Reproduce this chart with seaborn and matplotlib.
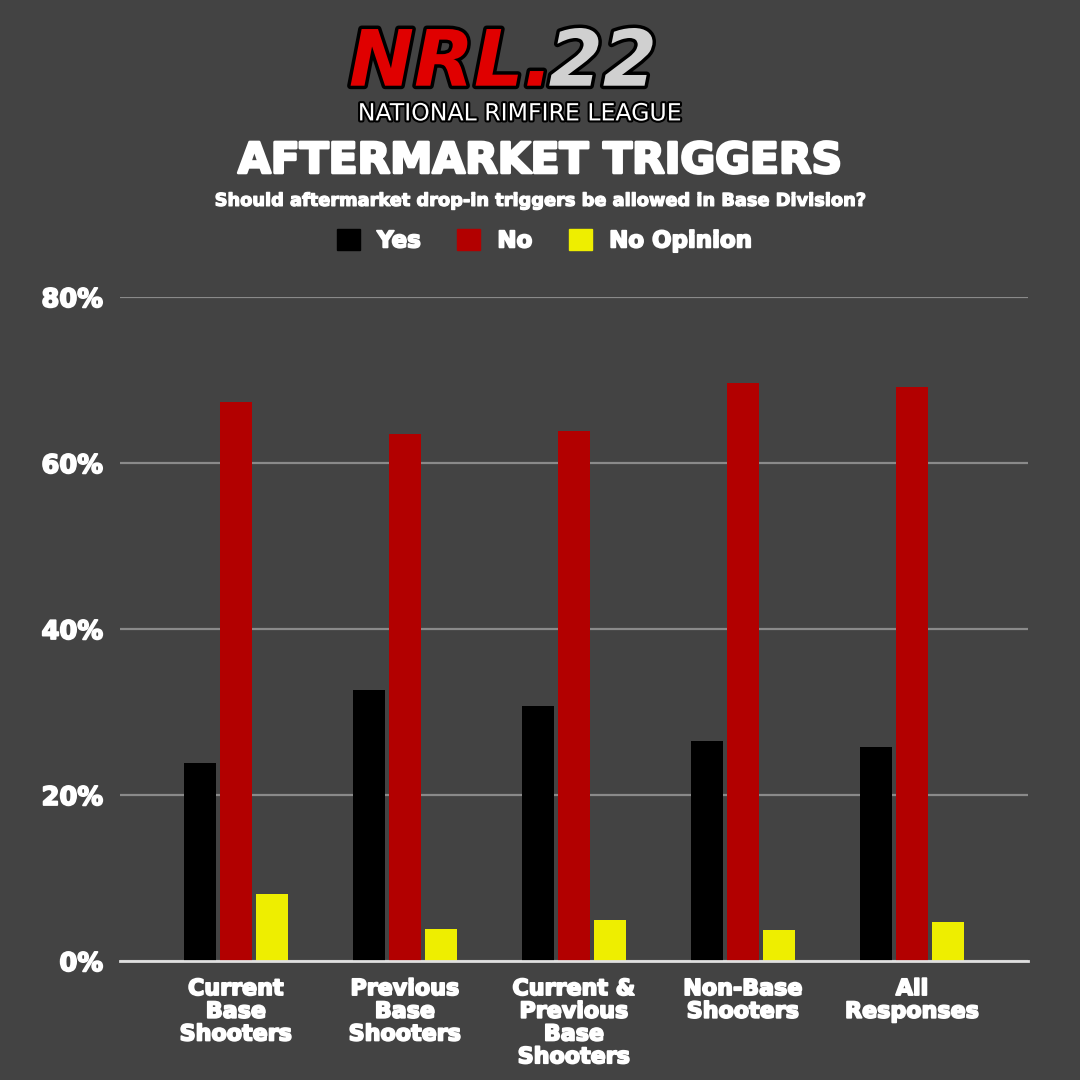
import matplotlib
matplotlib.use("Agg")
import matplotlib.pyplot as plt
import matplotlib.patheffects as pe
import seaborn as sns
import pandas as pd

categories = ["Current\nBase\nShooters", "Previous\nBase\nShooters",
              "Current &\nPrevious\nBase\nShooters", "Non-Base\nShooters", "All\nResponses"]
series = ["Yes", "No", "No Opinion"]
yes_vals = [23.9, 32.6, 30.7, 26.5, 25.8]
no_vals = [67.4, 63.5, 63.8, 69.6, 69.1]
noop_vals = [8.1, 3.9, 4.9, 3.7, 4.7]
y_ticks = [0, 20, 40, 60, 80]
y_tick_labels = ["0%", "20%", "40%", "60%", "80%"]

BG = "#434343"
colors = {"Yes": "#000000", "No": "#b20000", "No Opinion": "#eeee00"}

df = pd.DataFrame({
    "category": categories * 3,
    "series": ["Yes"] * 5 + ["No"] * 5 + ["No Opinion"] * 5,
    "value": yes_vals + no_vals + noop_vals,
})

sns.set_theme(style="dark")
FONT = ["DejaVu Sans"]
plt.rcParams["font.family"] = FONT

heavy = [pe.withStroke(linewidth=1.3, foreground="white")]

fig = plt.figure(figsize=(10.8, 10.8), dpi=100, facecolor=BG)
ax = fig.add_axes([120 / 1080, 119 / 1080, 908 / 1080, 664 / 1080])
ax.set_facecolor(BG)

sns.barplot(data=df, x="category", y="value", hue="series", order=categories,
            hue_order=series, palette=colors, width=0.64, gap=0.11,
            saturation=1, ax=ax, legend=False, errorbar=None, linewidth=0)

ax.set_ylim(0, 80)
ax.set_xlim(-0.686, 4.686)
ax.set_yticks(y_ticks)
ax.set_yticklabels(y_tick_labels)
ax.set_xlabel("")
ax.set_ylabel("")
ax.grid(axis="y", color="#8a8a8a", linewidth=1.6)
ax.grid(axis="x", visible=False)
ax.set_axisbelow(True)
for s in ["top", "right", "left"]:
    ax.spines[s].set_visible(False)
ax.spines["bottom"].set_color("#e0e0e0")
ax.spines["bottom"].set_linewidth(2)
ax.tick_params(axis="y", length=0, pad=12, labelsize=18.5, labelcolor="white")
ax.tick_params(axis="x", length=0, pad=13, labelsize=16, labelcolor="white")
for lab in ax.get_yticklabels() + ax.get_xticklabels():
    lab.set_fontweight("bold")
    lab.set_path_effects(heavy)
for lab in ax.get_xticklabels():
    lab.set_linespacing(1.17)
    lab.set_verticalalignment("top")

# Logo (approximation with text)
stroke = [pe.withStroke(linewidth=5, foreground="black")]
fig.text(0.512, 0.941, "NRL.", color="#e00000", fontsize=56, fontweight="bold",
         style="italic", ha="right", va="center", path_effects=stroke)
fig.text(0.508, 0.941, "22", color="#d0d0d0", fontsize=56, fontweight="bold",
         style="italic", ha="left", va="center", path_effects=stroke)
fig.text(0.482, 0.895, "NATIONAL RIMFIRE LEAGUE", color="white", fontsize=17,
         ha="center", va="center",
         path_effects=[pe.withStroke(linewidth=3, foreground="black")])

fig.text(0.5, 0.851, "AFTERMARKET TRIGGERS", color="white", fontsize=30.5,
         fontweight="bold", ha="center", va="center",
         path_effects=[pe.withStroke(linewidth=2, foreground="white")])
fig.text(0.5, 0.814, "Should aftermarket drop-in triggers be allowed in Base Division?",
         color="white", fontsize=12.8, fontweight="bold", ha="center", va="center",
         path_effects=[pe.withStroke(linewidth=0.9, foreground="white")])

# Legend
handles = [plt.Rectangle((0, 0), 1, 1, color=colors[s]) for s in series]
leg = fig.legend(handles, series, loc="center", bbox_to_anchor=(0.504, 0.777),
                 ncol=3, frameon=False, fontsize=16.5, handlelength=1.0,
                 handleheight=1.0, columnspacing=1.6, handletextpad=0.75)
for t in leg.get_texts():
    t.set_color("white")
    t.set_fontweight("bold")
    t.set_path_effects(heavy)

fig.savefig("out.png", dpi=100, facecolor=BG)
